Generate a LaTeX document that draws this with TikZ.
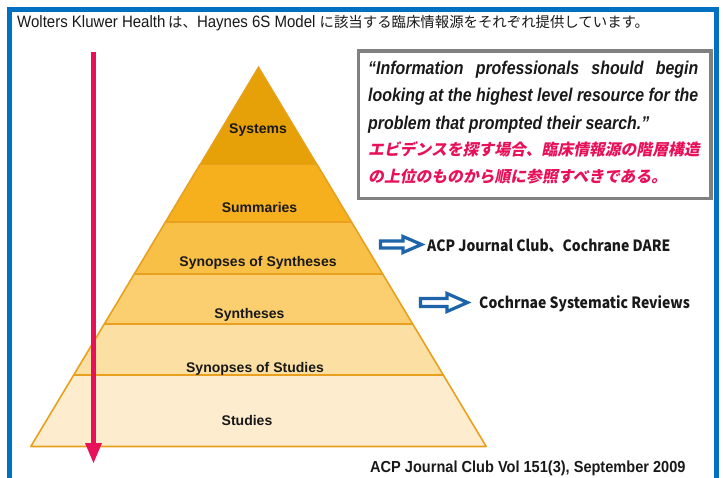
\documentclass[tikz,border=0pt]{standalone}
\usepackage{fontspec}
\setmainfont{Liberation Sans}
\newfontfamily\narrowfont[FakeStretch=0.91]{Liberation Sans}
\newfontfamily\quotefont[FakeStretch=0.86]{Liberation Sans}
\newfontfamily\bottomfont[FakeStretch=0.91]{Liberation Sans}
\newfontfamily\jpfont{Noto Sans CJK JP}
\newfontfamily\reffont[FakeStretch=0.9]{Noto Sans CJK JP}
\newfontfamily\jpslantfont[FakeSlant=0.2]{Noto Sans CJK JP}
\definecolor{frameblue}{RGB}{0,112,192}
\definecolor{arrowblue}{RGB}{30,100,170}
\definecolor{crimson}{RGB}{232,16,88}
\definecolor{boxgray}{RGB}{128,128,128}
\definecolor{edgeorange}{RGB}{232,160,30}
\definecolor{lvlA}{RGB}{230,160,8}
\definecolor{lvlB}{RGB}{246,176,30}
\definecolor{lvlC}{RGB}{249,192,72}
\definecolor{lvlD}{RGB}{251,207,112}
\definecolor{lvlE}{RGB}{252,223,162}
\definecolor{lvlF}{RGB}{253,237,206}
\definecolor{txtdark}{RGB}{25,25,25}
\tikzset{
  band/.style={draw=edgeorange, line width=1.6pt, line join=round},
  lvllabel/.style={anchor=base, inner sep=0pt, font=\bfseries\fontsize{14}{16}\selectfont, text=txtdark},
  quoteline/.style={anchor=base west, inner sep=0pt, font=\quotefont\bfseries\itshape\fontsize{18.5}{20}\selectfont, text=txtdark},
  redline/.style={anchor=base west, inner sep=0pt, font=\jpslantfont\bfseries\fontsize{15.8}{18}\selectfont, text=crimson},
  hollow/.style={draw=arrowblue, line width=3.2pt, fill=white, line join=miter},
  reftext/.style={anchor=base west, inner sep=0pt, font=\reffont\bfseries\fontsize{15.5}{18}\selectfont, text=txtdark}
}
\begin{document}
\begin{tikzpicture}[x=1pt,y=-1pt]
\useasboundingbox (0,0) rectangle (723,477);
\fill[white] (0,0) rectangle (723,477);
% outer frame
\draw[frameblue, line width=4.5pt] (9.5,490) -- (9.5,9.5) -- (716.5,9.5) -- (716.5,490);
% title
\node[anchor=base west, inner sep=0pt, text=txtdark] (title) at (17,27)
  {\fontsize{16.5}{18}\selectfont\narrowfont Wolters Kluwer Health\,{\jpfont\fontsize{14.4}{18}\selectfont は、}Haynes 6S Model {\jpfont\fontsize{14.4}{18}\selectfont に該当する臨床情報源をそれぞれ提供しています。}};
% pyramid
\filldraw[band, fill=lvlF] (30.8,446.5) -- (486.2,446.5) -- (443.3,375) -- (73.7,375) -- cycle;
\filldraw[band, fill=lvlE] (73.7,375) -- (443.3,375) -- (412.7,324) -- (104.3,324) -- cycle;
\filldraw[band, fill=lvlD] (104.3,324) -- (412.7,324) -- (382.7,274) -- (134.3,274) -- cycle;
\filldraw[band, fill=lvlC] (134.3,274) -- (382.7,274) -- (351.5,222) -- (165.5,222) -- cycle;
\filldraw[band, fill=lvlB] (165.5,222) -- (351.5,222) -- (316.7,164) -- (200.3,164) -- cycle;
\fill[lvlA] (200.3,164) -- (316.7,164) -- (258.5,67) -- cycle;
\draw[edgeorange, line width=1.2pt] (200.3,164) -- (258.5,67) -- (316.7,164);
\node[lvllabel] (systems) at (258,133) {Systems};
\node[lvllabel] (summaries) at (259.5,212) {Summaries};
\node[lvllabel] (synsyn) at (258,266) {Synopses of Syntheses};
\node[lvllabel] (syntheses) at (249.5,318) {Syntheses};
\node[lvllabel] (synstud) at (255,372) {Synopses of Studies};
\node[lvllabel] (studies) at (247,425) {Studies};
% red arrow
\coordinate (rtop) at (93.5,52);
\coordinate (rtip) at (93.5,463);
\coordinate (rhead) at (93.5,443);
\draw[crimson, line width=5pt] (rtop) -- (rhead);
\fill[crimson] (85,443) -- (102,443) -- (rtip) -- cycle;
% quote box
\draw[boxgray, line width=3.5pt] (358.5,51) rectangle (711,198.5);
\node[quoteline] (q1) at (368,74) {\makebox[330pt][s]{“Information professionals should begin}};
\node[quoteline] (q2) at (368,101.5) {\makebox[330pt][s]{looking at the highest level resource for the}};
\node[quoteline] (q3) at (368,129) {problem that prompted their search.”};
\node[redline] (r1) at (368,155.5) {エビデンスを探す場合、臨床情報源の階層構造};
\node[redline] (r2) at (368,182) {の上位のものから順に参照すべきである。};
% hollow arrows
\draw[hollow] (380.5,241) -- (403,241) -- (403,236.5) -- (421.5,244.5) -- (403,252.5) -- (403,248) -- (380.5,248) -- cycle;
\draw[hollow] (420.5,298.5) -- (447,298.5) -- (447,293.5) -- (467.5,302.5) -- (447,311.5) -- (447,306.5) -- (420.5,306.5) -- cycle;
\node[reftext] (acp) at (427,251) {ACP Journal Club、Cochrane DARE};
\node[reftext] (cochrane) at (479,308) {Cochrnae Systematic Reviews};
% source
\node[anchor=base west, inner sep=0pt, text=txtdark, font=\bottomfont\bfseries\fontsize{16}{18}\selectfont] (source) at (370,472.5) {ACP Journal Club Vol 151(3), September 2009};
\end{tikzpicture}
\end{document}
